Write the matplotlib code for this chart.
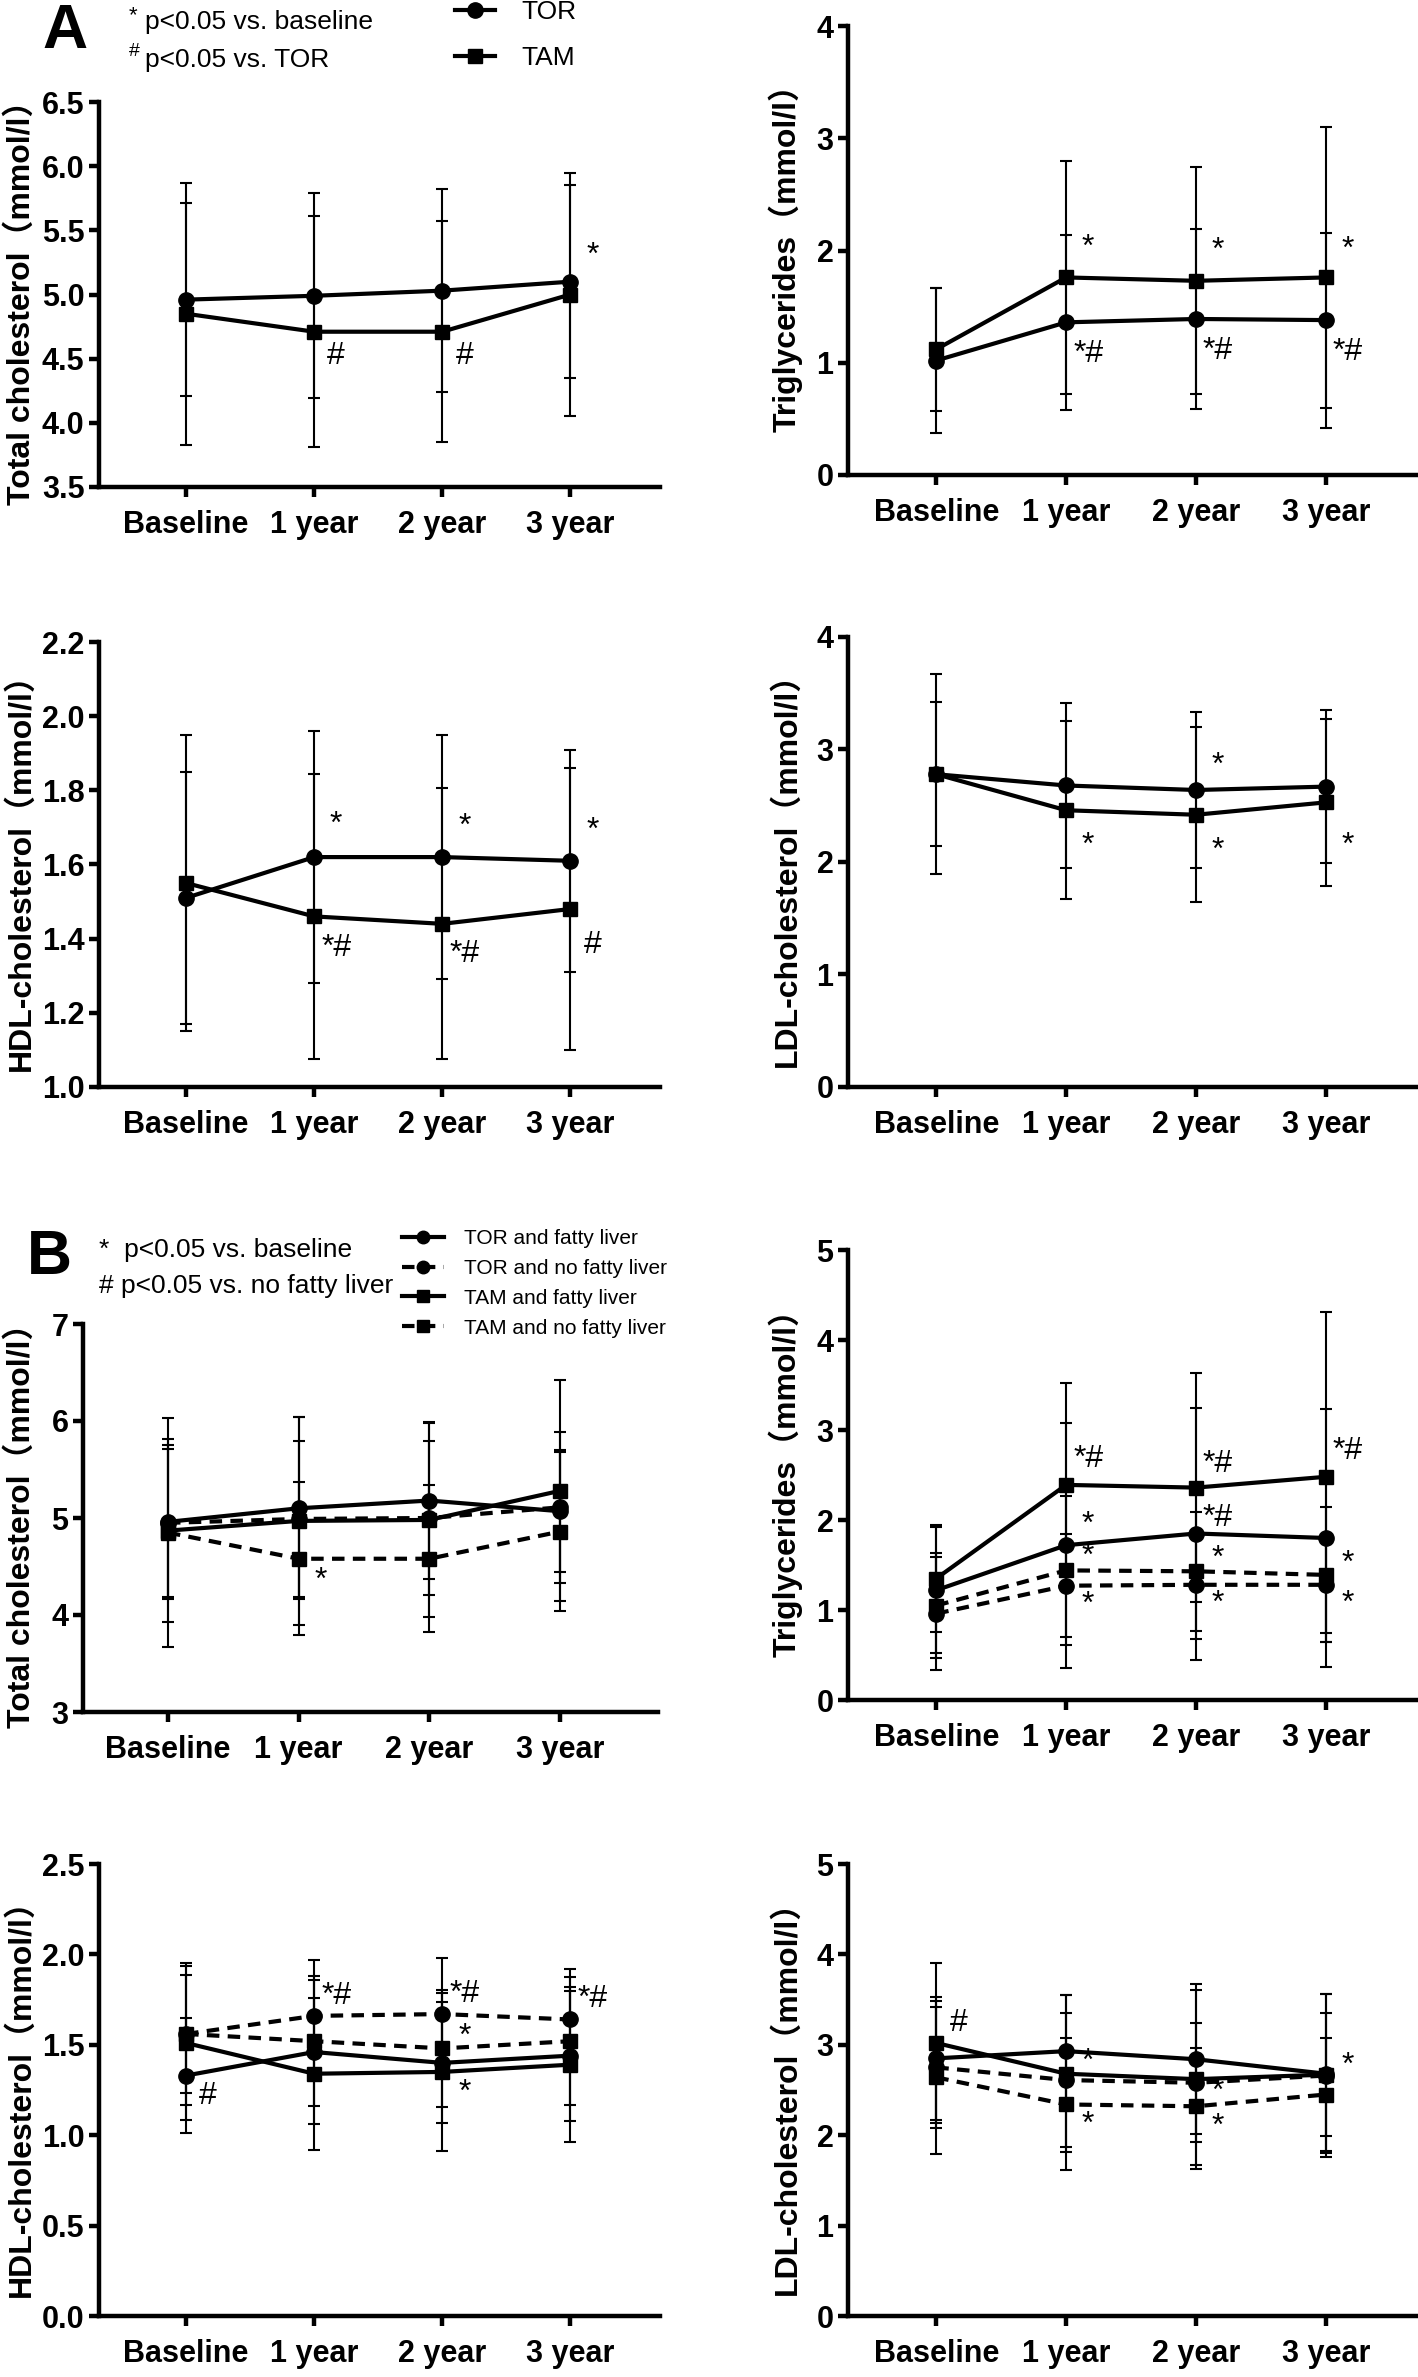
import matplotlib
matplotlib.use("Agg")
import matplotlib.pyplot as plt
from matplotlib.lines import Line2D

W, H = 1418, 2377
DPI = 100

categories = ["Baseline", "1 year", "2 year", "3 year"]

# ---- panel A: TOR vs TAM (mean, SD) ----
a_tc_tor = [4.96, 4.99, 5.03, 5.10]
a_tc_tor_sd = [0.75, 0.80, 0.79, 0.75]
a_tc_tam = [4.85, 4.71, 4.71, 5.00]
a_tc_tam_sd = [1.02, 0.90, 0.86, 0.95]

a_tg_tor = [1.02, 1.36, 1.39, 1.38]
a_tg_tor_sd = [0.65, 0.78, 0.80, 0.78]
a_tg_tam = [1.12, 1.76, 1.73, 1.76]
a_tg_tam_sd = [0.55, 1.04, 1.01, 1.34]

a_hdl_tor = [1.51, 1.62, 1.62, 1.61]
a_hdl_tor_sd = [0.34, 0.34, 0.33, 0.30]
a_hdl_tam = [1.55, 1.46, 1.44, 1.48]
a_hdl_tam_sd = [0.40, 0.385, 0.365, 0.38]

a_ldl_tor = [2.78, 2.68, 2.64, 2.67]
a_ldl_tor_sd = [0.64, 0.73, 0.69, 0.68]
a_ldl_tam = [2.78, 2.46, 2.42, 2.53]
a_ldl_tam_sd = [0.89, 0.79, 0.78, 0.74]

# ---- panel B: by fatty liver status (mean, SD) ----
b_tc_tor_f = [4.96, 5.10, 5.18, 5.07]
b_tc_tor_f_sd = [0.79, 0.94, 0.81, 0.63]
b_tc_tor_nf = [4.95, 4.99, 5.00, 5.11]
b_tc_tor_nf_sd = [0.76, 0.80, 0.79, 0.78]
b_tc_tam_f = [4.87, 4.97, 4.98, 5.28]
b_tc_tam_f_sd = [0.94, 1.07, 1.00, 1.14]
b_tc_tam_nf = [4.85, 4.58, 4.58, 4.86]
b_tc_tam_nf_sd = [1.18, 0.79, 0.76, 0.82]

b_tg_tor_f = [1.22, 1.72, 1.85, 1.80]
b_tg_tor_f_sd = [0.70, 1.36, 1.40, 1.43]
b_tg_tor_nf = [0.96, 1.27, 1.28, 1.28]
b_tg_tor_nf_sd = [0.63, 0.57, 0.60, 0.53]
b_tg_tam_f = [1.35, 2.39, 2.36, 2.48]
b_tg_tam_f_sd = [0.59, 1.13, 1.27, 1.83]
b_tg_tam_nf = [1.05, 1.44, 1.43, 1.39]
b_tg_tam_nf_sd = [0.58, 0.83, 0.66, 0.75]

b_hdl_tor_f = [1.33, 1.46, 1.40, 1.44]
b_hdl_tor_f_sd = [0.32, 0.40, 0.335, 0.36]
b_hdl_tor_nf = [1.56, 1.66, 1.67, 1.64]
b_hdl_tor_nf_sd = [0.395, 0.31, 0.31, 0.28]
b_hdl_tam_f = [1.51, 1.34, 1.35, 1.39]
b_hdl_tam_f_sd = [0.425, 0.42, 0.435, 0.43]
b_hdl_tam_nf = [1.56, 1.52, 1.48, 1.52]
b_hdl_tam_nf_sd = [0.325, 0.36, 0.325, 0.355]

b_ldl_tor_f = [2.85, 2.93, 2.84, 2.68]
b_ldl_tor_f_sd = [0.68, 0.62, 0.83, 0.88]
b_ldl_tor_nf = [2.75, 2.61, 2.58, 2.66]
b_ldl_tor_nf_sd = [0.67, 0.74, 0.66, 0.90]
b_ldl_tam_f = [3.02, 2.68, 2.62, 2.67]
b_ldl_tam_f_sd = [0.89, 0.87, 0.99, 0.68]
b_ldl_tam_nf = [2.64, 2.34, 2.32, 2.45]
b_ldl_tam_nf_sd = [0.85, 0.73, 0.65, 0.63]

a_names = ["TOR", "TAM"]
b_names = ["TOR and fatty liver", "TOR and no fatty liver",
           "TAM and fatty liver", "TAM and no fatty liver"]

# significance marks: (series, time index, text, y offset in px)
a_tc_marks = [("TOR", 3, "*", 26), ("TAM", 1, "#", -24), ("TAM", 2, "#", -24)]
a_tg_marks = [("TAM", 1, "*", 30), ("TAM", 2, "*", 30), ("TAM", 3, "*", 28),
              ("TOR", 1, "*#", -32), ("TOR", 2, "*#", -32), ("TOR", 3, "*#", -32)]
a_hdl_marks = [("TOR", 1, "*", 32), ("TOR", 2, "*", 30), ("TOR", 3, "*", 30),
               ("TAM", 1, "*#", -32), ("TAM", 2, "*#", -30), ("TAM", 3, "#", -36)]
a_ldl_marks = [("TOR", 2, "*", 24), ("TAM", 1, "*", -36), ("TAM", 2, "*", -36),
               ("TAM", 3, "*", -44)]
b_tc_marks = [("TAM and no fatty liver", 1, "*", -22)]
b_tg_marks = [("TAM and fatty liver", 1, "*#", 26), ("TAM and fatty liver", 2, "*#", 24),
              ("TAM and fatty liver", 3, "*#", 26),
              ("TOR and fatty liver", 1, "*", 20), ("TOR and fatty liver", 2, "*#", 16),
              ("TAM and no fatty liver", 1, "*", 13), ("TAM and no fatty liver", 2, "*", 12),
              ("TAM and no fatty liver", 3, "*", 11),
              ("TOR and no fatty liver", 1, "*", -19), ("TOR and no fatty liver", 2, "*", -19),
              ("TOR and no fatty liver", 3, "*", -19)]
b_hdl_marks = [("TOR and no fatty liver", 1, "*#", 20), ("TOR and no fatty liver", 2, "*#", 20),
               ("TOR and no fatty liver", 3, "*#", 20), ("TAM and no fatty liver", 2, "*", 12),
               ("TAM and fatty liver", 2, "*", -21), ("TOR and fatty liver", 0, "#", -20)]
b_ldl_marks = [("TAM and fatty liver", 0, "#", 20), ("TAM and fatty liver", 1, "*", 12),
               ("TAM and no fatty liver", 1, "*", -20), ("TAM and fatty liver", 2, "*", -13),
               ("TAM and no fatty liver", 2, "*", -21), ("TAM and fatty liver", 3, "*", 9)]

NARROW = ["Liberation Sans Narrow", "Liberation Sans", "DejaVu Sans"]
LABEL = ["Liberation Sans", "Noto Sans CJK SC", "DejaVu Sans"]
LW = 3.0
STYLE_A = {"TOR": ("o", "-"), "TAM": ("s", "-")}
DASH = (0, (3.0, 2.0))
STYLE_B = {"TOR and fatty liver": ("o", "-"), "TOR and no fatty liver": ("o", DASH),
           "TAM and fatty liver": ("s", "-"), "TAM and no fatty liver": ("s", DASH)}

fig = plt.figure(figsize=(W / DPI, H / DPI), dpi=DPI)


def make_axes(left, top, right, bottom):
    return fig.add_axes([left / W, 1 - bottom / H, (right - left) / W, (bottom - top) / H])


def draw_panel(box, xlim, series, styles, ylim, yticks, fmt, ylabel, label_px, marks):
    ax = make_axes(*box)
    x = list(range(len(categories)))
    means = {}
    for name, m, sd in series:
        marker, ls = styles[name]
        ax.errorbar(x, m, yerr=sd, fmt="none", ecolor="black", elinewidth=1.5,
                    capsize=4.5, capthick=1.5, clip_on=False, zorder=2)
        ax.plot(x, m, color="black", lw=LW, ls=ls, marker=marker,
                ms=11 if marker == "o" else 10, clip_on=False, zorder=3)
        means[name] = m
    for name, i, txt, dy in marks:
        ax.annotate(txt, (i, means[name][i]), xytext=(22, dy), textcoords="offset pixels",
                    ha="center", va="center", fontsize=23, family=NARROW)
    ax.set_xlim(*xlim)
    ax.set_ylim(*ylim)
    ax.set_yticks(yticks)
    ax.set_yticklabels([fmt % t for t in yticks])
    ax.set_xticks(x)
    ax.set_xticklabels(categories)
    for lab in ax.get_xticklabels() + ax.get_yticklabels():
        lab.set_family(NARROW)
        lab.set_fontweight("bold")
        lab.set_fontsize(22)
    ax.tick_params(axis="both", direction="out", length=7.5, width=3.2)
    ax.tick_params(axis="x", pad=9)
    ax.tick_params(axis="y", pad=3)
    for s in ("top", "right"):
        ax.spines[s].set_visible(False)
    for s in ("left", "bottom"):
        ax.spines[s].set_linewidth(3.2)
    ax.set_ylabel(ylabel, family=LABEL, fontweight="bold", fontsize=23)
    # anchor = right edge of the rotated label
    ax.yaxis.set_label_coords((label_px - box[0]) / (box[2] - box[0]), 0.5)
    ax.patch.set_alpha(0)
    return ax


XL_L = (-0.68, 3.70)
XL_R = (-0.68, 3.71)
LAB_L = 37
LAB_R = 803

draw_panel((99, 102, 660, 487), XL_L,
           [("TOR", a_tc_tor, a_tc_tor_sd), ("TAM", a_tc_tam, a_tc_tam_sd)], STYLE_A,
           (3.5, 6.5), [3.5, 4.0, 4.5, 5.0, 5.5, 6.0, 6.5], "%.1f",
           "Total cholesterol（mmol/l）", LAB_L, a_tc_marks)
draw_panel((848, 26, 1418, 475), XL_R,
           [("TOR", a_tg_tor, a_tg_tor_sd), ("TAM", a_tg_tam, a_tg_tam_sd)], STYLE_A,
           (0, 4), [0, 1, 2, 3, 4], "%d",
           "Triglycerides（mmol/l）", LAB_R, a_tg_marks)
draw_panel((99, 642, 660, 1087), XL_L,
           [("TOR", a_hdl_tor, a_hdl_tor_sd), ("TAM", a_hdl_tam, a_hdl_tam_sd)], STYLE_A,
           (1.0, 2.2), [1.0, 1.2, 1.4, 1.6, 1.8, 2.0, 2.2], "%.1f",
           "HDL-cholesterol（mmol/l）", LAB_L, a_hdl_marks)
draw_panel((848, 637, 1418, 1087), XL_R,
           [("TOR", a_ldl_tor, a_ldl_tor_sd), ("TAM", a_ldl_tam, a_ldl_tam_sd)], STYLE_A,
           (0, 4), [0, 1, 2, 3, 4], "%d",
           "LDL-cholesterol（mmol/l）", LAB_R, a_ldl_marks)

draw_panel((83, 1324, 658, 1712), (-0.65, 3.75),
           [(b_names[0], b_tc_tor_f, b_tc_tor_f_sd), (b_names[1], b_tc_tor_nf, b_tc_tor_nf_sd),
            (b_names[2], b_tc_tam_f, b_tc_tam_f_sd), (b_names[3], b_tc_tam_nf, b_tc_tam_nf_sd)],
           STYLE_B, (3, 7), [3, 4, 5, 6, 7], "%d",
           "Total cholesterol（mmol/l）", LAB_L, b_tc_marks)
draw_panel((848, 1250, 1418, 1700), XL_R,
           [(b_names[0], b_tg_tor_f, b_tg_tor_f_sd), (b_names[1], b_tg_tor_nf, b_tg_tor_nf_sd),
            (b_names[2], b_tg_tam_f, b_tg_tam_f_sd), (b_names[3], b_tg_tam_nf, b_tg_tam_nf_sd)],
           STYLE_B, (0, 5), [0, 1, 2, 3, 4, 5], "%d",
           "Triglycerides（mmol/l）", LAB_R, b_tg_marks)
draw_panel((99, 1864, 660, 2316), XL_L,
           [(b_names[0], b_hdl_tor_f, b_hdl_tor_f_sd), (b_names[1], b_hdl_tor_nf, b_hdl_tor_nf_sd),
            (b_names[2], b_hdl_tam_f, b_hdl_tam_f_sd), (b_names[3], b_hdl_tam_nf, b_hdl_tam_nf_sd)],
           STYLE_B, (0, 2.5), [0.0, 0.5, 1.0, 1.5, 2.0, 2.5], "%.1f",
           "HDL-cholesterol（mmol/l）", LAB_L, b_hdl_marks)
draw_panel((848, 1864, 1418, 2316), XL_R,
           [(b_names[0], b_ldl_tor_f, b_ldl_tor_f_sd), (b_names[1], b_ldl_tor_nf, b_ldl_tor_nf_sd),
            (b_names[2], b_ldl_tam_f, b_ldl_tam_f_sd), (b_names[3], b_ldl_tam_nf, b_ldl_tam_nf_sd)],
           STYLE_B, (0, 5), [0, 1, 2, 3, 4, 5], "%d",
           "LDL-cholesterol（mmol/l）", LAB_R, b_ldl_marks)


def fx(px):
    return px / W


def fy(py):
    return 1 - py / H


# panel letters and notes
fig.text(fx(42), fy(31), "A", fontsize=45, fontweight="bold", family=LABEL, va="center")
fig.text(fx(129), fy(16), "*", fontsize=16, family=NARROW, va="center")
fig.text(fx(145), fy(22), "p<0.05 vs. baseline", fontsize=19, family=NARROW, va="center")
fig.text(fx(129), fy(51), "#", fontsize=14, family=NARROW, va="center")
fig.text(fx(145), fy(60), "p<0.05 vs. TOR", fontsize=19, family=NARROW, va="center")

fig.text(fx(27), fy(1258), "B", fontsize=45, fontweight="bold", family=LABEL, va="center")
fig.text(fx(99), fy(1250), "*  p<0.05 vs. baseline", fontsize=19, family=NARROW, va="center")
fig.text(fx(99), fy(1286), "# p<0.05 vs. no fatty liver", fontsize=19, family=NARROW, va="center")

# legends
a_handles = [Line2D([], [], color="black", lw=LW, marker=STYLE_A[n][0], ls=STYLE_A[n][1],
                    ms=11 if STYLE_A[n][0] == "o" else 10) for n in a_names]
fig.legend(a_handles, a_names, loc="upper left", bbox_to_anchor=(fx(455), fy(0)),
           frameon=False, borderpad=0, borderaxespad=0, handlelength=1.5,
           handletextpad=1.0, labelspacing=0.85, prop={"family": NARROW, "size": 19})

b_handles = [Line2D([], [], color="black", lw=LW, marker=STYLE_B[n][0], ls=STYLE_B[n][1],
                    ms=9 if STYLE_B[n][0] == "o" else 8.5) for n in b_names]
fig.legend(b_handles, b_names, loc="upper left", bbox_to_anchor=(fx(402), fy(1229)),
           frameon=False, borderpad=0, borderaxespad=0, handlelength=2.0,
           handletextpad=1.0, labelspacing=0.52, prop={"family": NARROW, "size": 15})

fig.savefig("out.png", dpi=DPI, facecolor="white")
